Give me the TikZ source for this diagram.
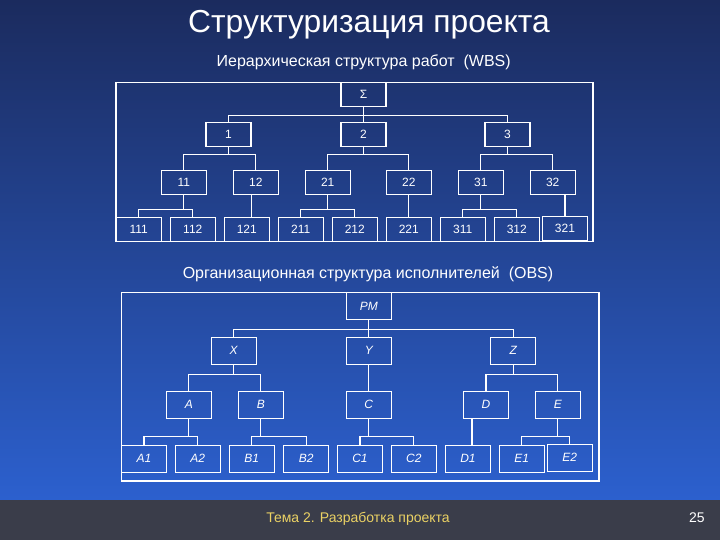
\documentclass[tikz,border=0pt]{standalone}
\usepackage{fontspec}
\setmainfont{Liberation Sans}
\usetikzlibrary{calc}
\definecolor{bgtop}{RGB}{27,43,94}
\definecolor{bgbot}{RGB}{44,96,206}
\definecolor{footbg}{RGB}{58,61,74}
\definecolor{foottxt}{RGB}{235,210,100}
\tikzset{
  box/.style={draw=white, line width=0.6pt, minimum width=22.5pt, minimum height=12pt, inner sep=0pt, text=white, font=\fontsize{6}{7}\selectfont},
  obox/.style={box, minimum height=13.5pt, font=\fontsize{6}{7}\selectfont\itshape},
  wire/.style={draw=white, line width=0.6pt, line join=miter},
  ttl/.style={text=white, anchor=base, inner sep=0pt},
}
\begin{document}
\begin{tikzpicture}[x=0.5pt,y=-0.5pt]
\useasboundingbox (0,0) rectangle (720,540);
\shade[top color=bgtop, bottom color=bgbot] (0,0) rectangle (720,500);
\fill[footbg] (0,500) rectangle (720,540);

% titles
\node[ttl, font=\fontsize{15.9}{18}\selectfont] (title) at (369,33) {Структуризация проекта};
\node[ttl, font=\fontsize{8}{9.5}\selectfont] (wbs) at (363.7,67) {Иерархическая структура работ\ \ (WBS)};
\node[ttl, font=\fontsize{8}{10}\selectfont] (obs) at (368,279) {Организационная структура исполнителей\ \ (OBS)};
\node[anchor=base, inner sep=0pt, text=foottxt, font=\fontsize{7}{8}\selectfont] (foot) at (358,523) {Тема 2. Разработка проекта};
\node[anchor=base, inner sep=0pt, text=white, font=\fontsize{7}{8}\selectfont] (page) at (697,523) {25};

% WBS frame
\draw[wire] (116,82.7) rectangle (593,241.7);
% WBS nodes
\node[box] (S) at (363.5,94.5) {Σ};
\node[box] (n1) at (228.5,134.3) {1};
\node[box] (n2) at (363.5,134.3) {2};
\node[box] (n3) at (507.5,134.3) {3};
\node[box] (n11) at (183.8,182.2) {11};
\node[box] (n12) at (255.8,182.2) {12};
\node[box] (n21) at (327.7,182.2) {21};
\node[box] (n22) at (408.8,182.2) {22};
\node[box] (n31) at (480.8,182.2) {31};
\node[box] (n32) at (552.7,182.2) {32};
\node[box] (n111) at (138.7,229.3) {111};
\node[box] (n112) at (192.8,229.3) {112};
\node[box] (n121) at (246.8,229.3) {121};
\node[box] (n211) at (300.8,229.3) {211};
\node[box] (n212) at (354.8,229.3) {212};
\node[box] (n221) at (408.8,229.3) {221};
\node[box] (n311) at (462.8,229.3) {311};
\node[box] (n312) at (516.8,229.3) {312};
\node[box] (n321) at (565,228.5) {321};
% WBS connectors
\draw[wire] (n1.north) |- ($(S.south)+(0,8.3)$) -| (n3.north);
\draw[wire] (S.south) -- (n2.north);
\draw[wire] (n11.north) |- ($(n1.south)+(0,8)$) -| (n12.north);
\draw[wire] (n1.south) -- ++(0,8);
\draw[wire] (n21.north) |- ($(n2.south)+(0,8)$) -| (n22.north);
\draw[wire] (n2.south) -- ++(0,8);
\draw[wire] (n31.north) |- ($(n3.south)+(0,8)$) -| (n32.north);
\draw[wire] (n3.south) -- ++(0,8);
\draw[wire] (n111.north) |- ($(n11.south)+(0,15)$) -| (n112.north);
\draw[wire] (n11.south) -- ++(0,15);
\draw[wire] (n211.north) |- ($(n21.south)+(0,15)$) -| (n212.north);
\draw[wire] (n21.south) -- ++(0,15);
\draw[wire] (n311.north) |- ($(n31.south)+(0,15)$) -| (n312.north);
\draw[wire] (n31.south) -- ++(0,15);
\draw[wire] ([xshift=2.5pt]n121.north) -- ([xshift=2.5pt]n121.north |- n12.south);
\draw[wire] (n221.north) -- (n221.north |- n22.south);
\draw[wire] (n321.north) -- (n321.north |- n32.south);

% OBS frame
\draw[wire] (121.3,292.7) rectangle (599,481);
% OBS nodes
\node[obox] (PM) at (368.8,306) {PM};
\node[obox] (X) at (233.7,350.8) {X};
\node[obox] (Y) at (368.8,350.8) {Y};
\node[obox] (Z) at (513.3,350.8) {Z};
\node[obox] (A) at (188.8,404.8) {A};
\node[obox] (B) at (260.8,404.8) {B};
\node[obox] (C) at (368.8,404.8) {C};
\node[obox] (D) at (486,404.8) {D};
\node[obox] (E) at (557.8,404.8) {E};
\node[obox] (A1) at (144,458.7) {A1};
\node[obox] (A2) at (197.8,458.7) {A2};
\node[obox] (B1) at (251.8,458.7) {B1};
\node[obox] (B2) at (306.2,458.7) {B2};
\node[obox] (C1) at (360,458.7) {C1};
\node[obox] (C2) at (413.8,458.7) {C2};
\node[obox] (D1) at (468,458.7) {D1};
\node[obox] (E1) at (521.8,458.7) {E1};
\node[obox] (E2) at (569.8,457.7) {E2};
% OBS connectors
\draw[wire] (X.north) |- ($(PM.south)+(0,9.7)$) -| (Z.north);
\draw[wire] (PM.south) -- (Y.north);
\draw[wire] (A.north) |- ($(X.south)+(0,9.4)$) -| (B.north);
\draw[wire] (X.south) -- ++(0,9.4);
\draw[wire] (D.north) |- ($(Z.south)+(0,9.4)$) -| (E.north);
\draw[wire] (Z.south) -- ++(0,9.4);
\draw[wire] (C.north) -- (C.north |- Y.south);
\draw[wire] (A1.north) |- ($(A.south)+(0,17.7)$) -| (A2.north);
\draw[wire] (A.south) -- ++(0,17.7);
\draw[wire] (B1.north) |- ($(B.south)+(0,17.7)$) -| (B2.north);
\draw[wire] (B.south) -- ++(0,17.7);
\draw[wire] (C1.north) |- ($(C.south)+(0,17.7)$) -| (C2.north);
\draw[wire] (C.south) -- ++(0,17.7);
\draw[wire] (E1.north) |- ($(E.south)+(0,17.7)$) -| (E2.north);
\draw[wire] (E.south) -- ++(0,17.7);
\draw[wire] ([xshift=2pt]D1.north) -- ([xshift=2pt]D1.north |- D.south);
\end{tikzpicture}
\end{document}
